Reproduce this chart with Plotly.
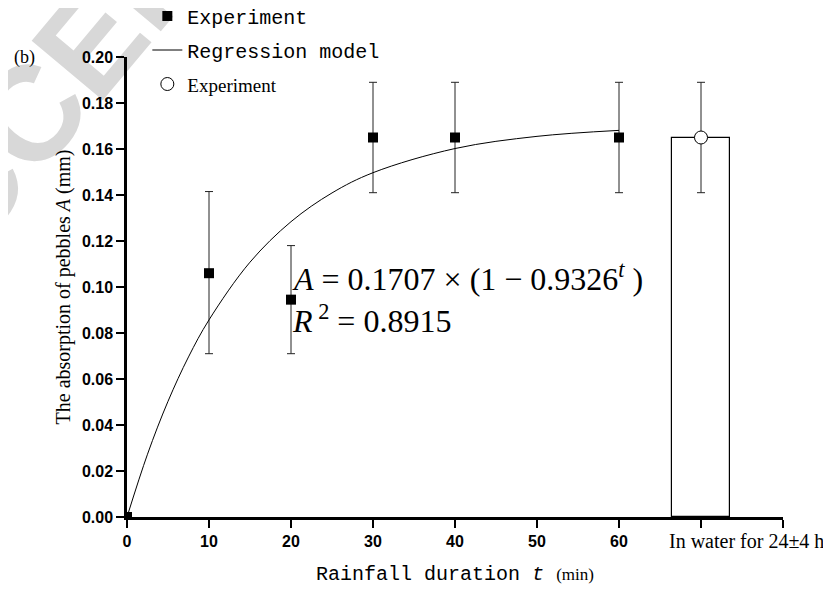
import plotly.graph_objects as go

# ---- data ----
t_exp = [0, 10, 20, 30, 40, 60]
A_exp = [0.0, 0.106, 0.0945, 0.165, 0.165, 0.165]
err_up = [0.0, 0.0355, 0.0235, 0.024, 0.024, 0.024]
err_dn = [0.0, 0.035, 0.0235, 0.024, 0.024, 0.024]

# regression curve, values
t_model = [0, 2.5, 5, 7.5, 10, 15, 20, 25, 30, 40, 50, 60]
A_model = [0.0, 0.0273, 0.0503, 0.0696, 0.0857, 0.1108, 0.1284, 0.1409, 0.1497, 0.1602, 0.1655, 0.1681]

water_pos = [70]
water_A = [0.165]
water_err = [0.024]
bar_width = 7
water_label = "In water for 24\u00b14 h"
water_label_pos = 75.5

x_tickvals = [0, 10, 20, 30, 40, 50, 60, 70, 80]
x_ticktext = ["0", "10", "20", "30", "40", "50", "60", " ", " "]
y_tickvals = [0.00, 0.02, 0.04, 0.06, 0.08, 0.10, 0.12, 0.14, 0.16, 0.18, 0.20]
y_ticktext = ["0.00", "0.02", "0.04", "0.06", "0.08", "0.10", "0.12", "0.14", "0.16", "0.18", "0.20"]

MONO = "Liberation Mono"
SERIF = "Liberation Serif"
SANS = "Liberation Sans"

fig = go.Figure()

# bar for "in water"
fig.add_trace(go.Bar(
    x=water_pos, y=water_A, width=bar_width,
    marker=dict(color="white", line=dict(color="black", width=1.2)),
    showlegend=False, hoverinfo="skip",
))

# experiment points
fig.add_trace(go.Scatter(
    x=t_exp, y=A_exp, mode="markers",
    marker=dict(symbol="square", size=10, color="black"),
    error_y=dict(type="data", symmetric=False, array=err_up, arrayminus=err_dn,
                 color="#222222", thickness=1, width=4),
    name="Experiment", legendgroup="g1",
))

# regression model
fig.add_trace(go.Scatter(
    x=t_model, y=A_model, mode="lines",
    line=dict(color="black", width=1, shape="spline", smoothing=1.0),
    name="Regression model", legendgroup="g2",
))

# in-water experiment
fig.add_trace(go.Scatter(
    x=water_pos, y=water_A, mode="markers",
    marker=dict(symbol="circle", size=13, color="white", line=dict(color="black", width=1)),
    error_y=dict(type="data", array=water_err, color="#222222", thickness=1, width=4),
    name='<span style="font-family:Liberation Serif;font-size:19px">Experiment</span>',
    legendgroup="g3",
))

# page body has an 8px margin: plot area sits at window x 127-783, y 57-517
fig.update_layout(
    width=831, height=590,
    margin=dict(l=119, r=56, t=49, b=81, autoexpand=False),
    paper_bgcolor="white", plot_bgcolor="white",
    showlegend=True,
    legend=dict(x=0.031, y=1.1315, xanchor="left", yanchor="top",
                font=dict(family=MONO, size=20, color="black"),
                bgcolor="rgba(0,0,0,0)", tracegroupgap=5, itemwidth=30),
    bargap=0,
)

fig.update_xaxes(
    range=[0, 80], tickmode="array", tickvals=x_tickvals, ticktext=x_ticktext,
    showline=True, linecolor="black", linewidth=2.5,
    ticks="outside", ticklen=8, tickwidth=2, tickcolor="black",
    tickfont=dict(family=SANS, size=16, color="black", weight="bold"),
    showgrid=False, zeroline=False, automargin=False,
    title=dict(text='Rainfall duration <i>t</i> <span style="font-family:Liberation Serif;font-size:17px">(min)</span>',
               font=dict(family=MONO, size=20, color="black"), standoff=18),
)
fig.update_yaxes(
    range=[0, 0.2], tickmode="array", tickvals=y_tickvals, ticktext=y_ticktext,
    showline=True, linecolor="black", linewidth=2.5,
    ticks="outside", ticklen=8, tickwidth=2, tickcolor="black",
    tickfont=dict(family=SANS, size=16, color="black", weight="bold"),
    showgrid=False, zeroline=False, automargin=False,
    title=dict(text="The absorption of pebbles <i>A</i> (mm)",
               font=dict(family=SERIF, size=20, color="black"), standoff=6),
)

# watermark, drawn underneath everything
fig.add_shape(
    type="rect", xref="paper", yref="paper",
    x0=-0.038, x1=-0.038, y0=1.105, y1=1.105,
    line=dict(width=0), fillcolor="rgba(0,0,0,0)", layer="below",
    label=dict(text="ACCEPTED", textangle=-50, textposition="middle center",
               font=dict(family=SANS, size=135, color="#d8d8d8", weight="bold")),
)

# category label under the bar
fig.add_annotation(
    text=water_label, xref="x", yref="paper", x=water_label_pos, y=0,
    yshift=-24, xanchor="center", yanchor="middle", showarrow=False,
    font=dict(family=SERIF, size=20, color="black"),
)
# panel label
fig.add_annotation(
    text="(b)", xref="paper", yref="paper", x=-0.157, y=1.0,
    xanchor="center", yanchor="middle", showarrow=False,
    font=dict(family=SERIF, size=18, color="black"),
)
# equation
fig.add_annotation(
    text="<i>A</i> = 0.1707 \u00d7 (1 \u2212 0.9326<sup><i>t</i></sup> )",
    xref="paper", yref="paper", x=0.2485, y=0.5226, xanchor="left", yanchor="middle",
    showarrow=False, font=dict(family=SERIF, size=32, color="black"),
)
fig.add_annotation(
    text="<i>R</i><sup> 2</sup> = 0.8915",
    xref="paper", yref="paper", x=0.2485, y=0.43, xanchor="left", yanchor="middle",
    showarrow=False, font=dict(family=SERIF, size=32, color="black"),
)

fig.write_html("out.html", config={"displayModeBar": False})
